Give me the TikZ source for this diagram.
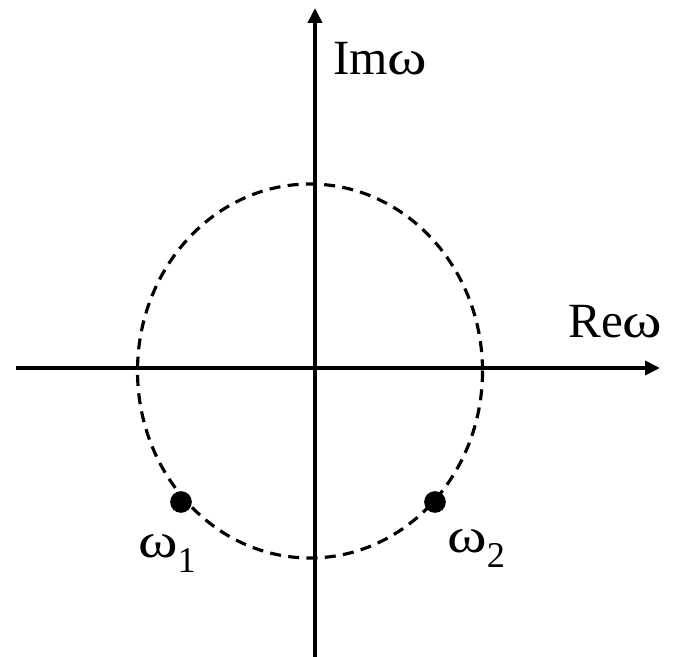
\documentclass[tikz,border=0pt]{standalone}
\usepackage{graphicx}
\usepackage{fontspec}
\setmainfont{Liberation Serif}
\usetikzlibrary{arrows.meta, positioning}

\newcommand{\om}{\scalebox{1.22}[1]{ω}}
\newcommand{\omsub}[1]{\om\raisebox{-0.32em}{\fontsize{31}{31}\selectfont #1}}

\begin{document}
\begin{tikzpicture}[
    x=0.03cm, y=-0.03cm,
    font=\fontsize{42}{50}\selectfont,
    axis/.style={line width=3.4pt, -{Triangle[length=0.45cm, width=0.42cm]}},
    orbit/.style={line width=2.7pt, dash pattern=on 0.33cm off 0.22cm},
    pole/.style={circle, fill=black, inner sep=0pt, minimum size=0.65cm},
    lbl/.style={inner sep=0pt, anchor=base west}
]
    \useasboundingbox (0,0) rectangle (673,657);

    % --- axes ---
    \coordinate (xl) at (16,368);
    \coordinate (xr) at (660,368);
    \coordinate (yb) at (315,657);
    \coordinate (yt) at (315,8);
    \draw [axis] (xl) -- (xr);
    \draw [axis] (yb) -- (yt);

    % --- dashed circle ---
    \draw [orbit] (310,371) ellipse [x radius=172.5, y radius=187];

    % --- poles ---
    \node [pole] (w1) at (181,502) {};
    \node [pole] (w2) at (435,502) {};

    % --- labels ---
    \node [lbl] (im) at (333,75) {Im\om};
    \node [lbl] (re) at (568,338) {Re\om};
    \node [lbl] (l1) at (138,557) {\omsub{1}};
    \node [lbl] (l2) at (447,552) {\omsub{2}};

\end{tikzpicture}
\end{document}
